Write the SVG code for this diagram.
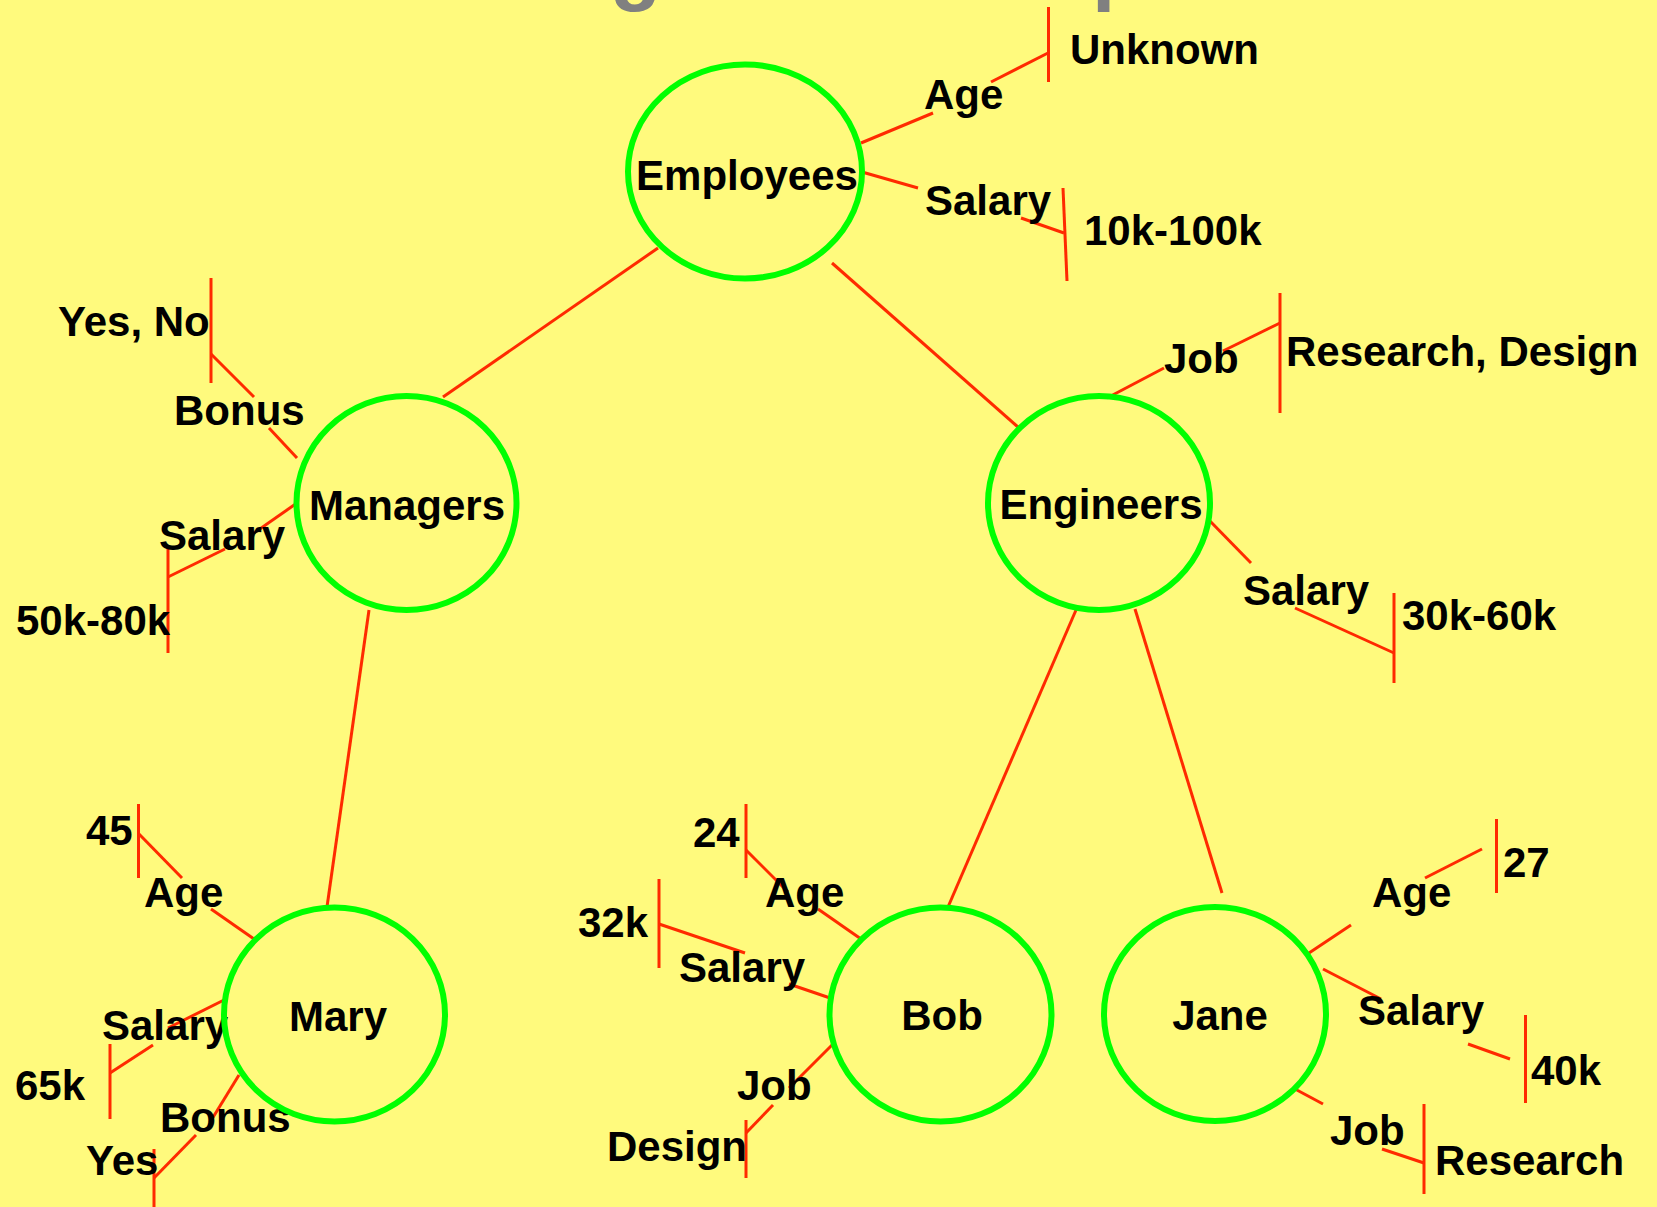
<svg xmlns="http://www.w3.org/2000/svg" width="1657" height="1207" viewBox="0 0 1657 1207">
<style>
  text { font-family: "Liberation Sans", Arial, sans-serif; font-weight: bold; font-size: 42px; fill: #000; }
  .title { fill: #808080; font-size: 84px; }
  .node ellipse { fill: none; stroke: #00FF00; stroke-width: 6; }
  .node text { text-anchor: middle; }
  line { stroke: #FF2A00; stroke-width: 3; }
</style>
<rect x="0" y="0" width="1657" height="1207" fill="#FFFA7D"/>
<text class="title" x="610" y="-5">g</text>
<text class="title" x="1092" y="-5">p</text>

<g id="connectors">
  <line x1="658" y1="248" x2="443" y2="397"/>
  <line x1="832" y1="263" x2="1018" y2="427"/>
  <line x1="369" y1="610" x2="327" y2="907"/>
  <line x1="1076" y1="610" x2="948" y2="907"/>
  <line x1="1135" y1="609" x2="1222" y2="893"/>
</g>

<g id="attributes">
  <!-- Employees -->
  <line x1="861" y1="143" x2="933" y2="113"/>
  <line x1="991" y1="82" x2="1048" y2="53"/>
  <line x1="1048.5" y1="7" x2="1048.5" y2="82"/>
  <text x="924" y="109">Age</text>
  <text x="1070" y="64">Unknown</text>
  <line x1="862" y1="172" x2="918" y2="188"/>
  <line x1="1021" y1="218" x2="1064" y2="233"/>
  <line x1="1063" y1="188" x2="1067" y2="281"/>
  <text x="925" y="215">Salary</text>
  <text x="1084" y="245">10k-100k</text>

  <!-- Managers -->
  <line x1="297" y1="458" x2="269" y2="428"/>
  <line x1="254" y1="397" x2="211" y2="354"/>
  <line x1="211" y1="278" x2="211" y2="383"/>
  <text x="174" y="425">Bonus</text>
  <text x="58" y="336">Yes, No</text>
  <line x1="297" y1="503" x2="254" y2="533"/>
  <line x1="225" y1="549" x2="168" y2="577"/>
  <line x1="168" y1="549" x2="168" y2="653"/>
  <text x="159" y="550">Salary</text>
  <text x="16" y="635">50k-80k</text>

  <!-- Engineers -->
  <line x1="1107" y1="398" x2="1164" y2="368"/>
  <line x1="1223" y1="351" x2="1280" y2="323"/>
  <line x1="1280" y1="293" x2="1280" y2="413"/>
  <text x="1164" y="373">Job</text>
  <text x="1286" y="366">Research, Design</text>
  <line x1="1208" y1="519" x2="1251" y2="563"/>
  <line x1="1295" y1="608" x2="1394" y2="653"/>
  <line x1="1394" y1="593" x2="1394" y2="683"/>
  <text x="1243" y="605">Salary</text>
  <text x="1402" y="630">30k-60k</text>

  <!-- Mary -->
  <line x1="254" y1="939" x2="211" y2="909"/>
  <line x1="182" y1="878" x2="139" y2="834"/>
  <line x1="138.5" y1="804" x2="138.5" y2="878"/>
  <text x="144" y="907">Age</text>
  <text x="86" y="845">45</text>
  <line x1="226" y1="999" x2="168" y2="1028"/>
  <line x1="153" y1="1045" x2="110" y2="1073"/>
  <line x1="110" y1="1044" x2="110" y2="1119"/>
  <text x="102" y="1040">Salary</text>
  <text x="15" y="1100">65k</text>
  <line x1="239" y1="1075" x2="212" y2="1119"/>
  <line x1="196" y1="1135" x2="154" y2="1178"/>
  <line x1="154" y1="1149" x2="154" y2="1207"/>
  <text x="160" y="1132">Bonus</text>
  <text x="86" y="1175">Yes</text>

  <!-- Bob -->
  <line x1="861" y1="939" x2="818" y2="909"/>
  <line x1="788" y1="892" x2="746" y2="850"/>
  <line x1="746" y1="804" x2="746" y2="878"/>
  <text x="765" y="907">Age</text>
  <text x="693" y="847">24</text>
  <line x1="833" y1="999" x2="789" y2="984"/>
  <line x1="745" y1="953" x2="659" y2="924"/>
  <line x1="659" y1="879" x2="659" y2="968"/>
  <text x="679" y="982">Salary</text>
  <text x="578" y="937">32k</text>
  <line x1="833" y1="1044" x2="789" y2="1088"/>
  <line x1="773" y1="1105" x2="746" y2="1133"/>
  <line x1="746" y1="1120" x2="746" y2="1178"/>
  <text x="737" y="1100">Job</text>
  <text x="607" y="1161">Design</text>

  <!-- Jane -->
  <line x1="1309" y1="953" x2="1351" y2="925"/>
  <line x1="1425" y1="878" x2="1482" y2="849"/>
  <line x1="1496.5" y1="819" x2="1496.5" y2="893"/>
  <text x="1372" y="907">Age</text>
  <text x="1503" y="877">27</text>
  <line x1="1323" y1="969" x2="1381" y2="999"/>
  <line x1="1468" y1="1044" x2="1510" y2="1059"/>
  <line x1="1525.5" y1="1015" x2="1525.5" y2="1103"/>
  <text x="1358" y="1025">Salary</text>
  <text x="1531" y="1085">40k</text>
  <line x1="1295" y1="1089" x2="1323" y2="1104"/>
  <line x1="1382" y1="1149" x2="1424" y2="1163"/>
  <line x1="1424" y1="1104" x2="1424" y2="1194"/>
  <text x="1330" y="1145">Job</text>
  <text x="1435" y="1175">Research</text>
</g>

<g id="node-employees" class="node">
  <ellipse cx="745" cy="171.5" rx="117" ry="107"/>
  <text x="747" y="190">Employees</text>
</g>
<g id="node-managers" class="node">
  <ellipse cx="406.5" cy="503" rx="110" ry="107"/>
  <text x="407" y="520">Managers</text>
</g>
<g id="node-engineers" class="node">
  <ellipse cx="1099" cy="503" rx="111" ry="107"/>
  <text x="1101" y="519">Engineers</text>
</g>
<g id="node-mary" class="node">
  <ellipse cx="334.5" cy="1014.5" rx="110.5" ry="107"/>
  <text x="338" y="1031">Mary</text>
</g>
<g id="node-bob" class="node">
  <ellipse cx="940.5" cy="1014.5" rx="111" ry="107"/>
  <text x="942" y="1030">Bob</text>
</g>
<g id="node-jane" class="node">
  <ellipse cx="1215" cy="1014" rx="111" ry="107"/>
  <text x="1220" y="1030">Jane</text>
</g>
</svg>
